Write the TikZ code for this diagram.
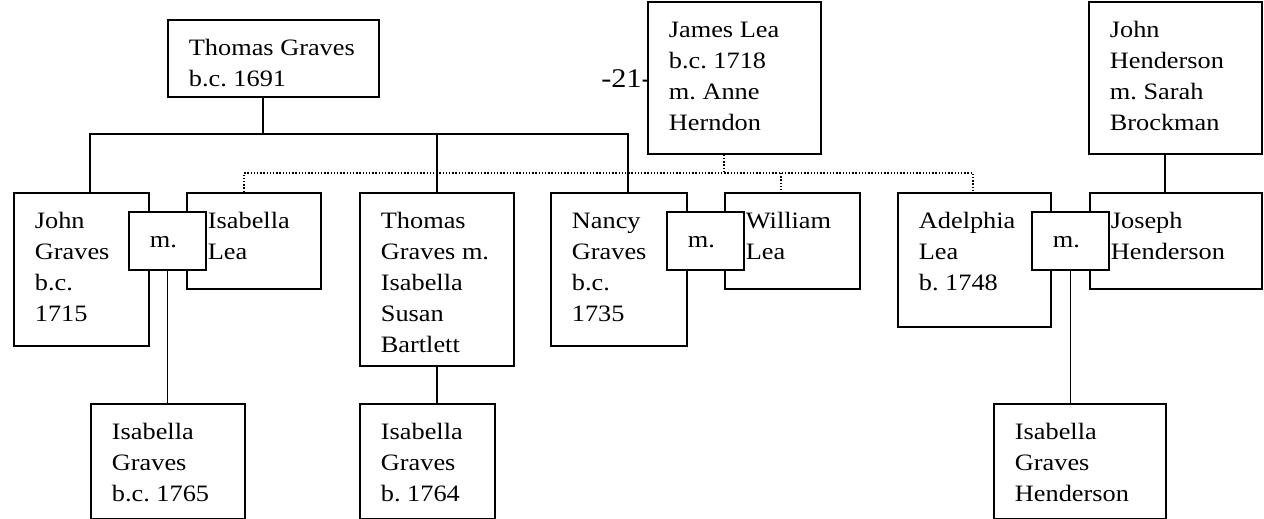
\documentclass[tikz,border=0pt]{standalone}
\usepackage{fontspec}
\setmainfont{Liberation Serif}[FakeStretch=1.12]
\usepackage{tikz}

\newlength{\pxu}
\setlength{\pxu}{0.5pt}
% box text: width, height (px), lines
\newcommand{\entry}[3]{\parbox[t][#2\pxu][t]{\dimexpr#1\pxu-42\pxu\relax}{\raggedright\hyphenpenalty=10000\rule{0pt}{35.5\pxu}#3}}

\begin{document}
\begin{tikzpicture}[
  x=0.5pt, y=-0.5pt,
  font=\fontsize{11.75}{15.5}\selectfont,
  person/.style={draw, line width=0.9pt, fill=white, inner xsep=10.5pt, inner ysep=0pt, anchor=north west},
  link/.style={line width=0.9pt},
  kin/.style={line width=0.7pt, dash pattern=on 0.7pt off 0.9pt},
]
\useasboundingbox (0,0) rectangle (1264,519);

% Numéro de page
\node[anchor=base west, inner sep=0pt, font=\fontsize{13.5}{16}\selectfont] (pagenum) at (601,88) {-21-};

% Parents
\node[person] (tgraves) at (167,19) {\entry{211}{77}{Thomas~Graves\\b.c.~1691}};
\node[person] (jlea)    at (647,1)  {\entry{173}{152}{James~Lea\\b.c.~1718\\m.~Anne\\Herndon}};
\node[person] (jhend)   at (1088,1) {\entry{173}{152}{John\\Henderson\\m.~Sarah\\Brockman}};

% Enfants et conjoints
\node[person] (jgraves)  at (13,192)   {\entry{135}{153}{John\\Graves\\b.c.\\1715}};
\node[person] (ilea)     at (186,192)  {\entry{134}{96}{Isabella\\Lea}};
\node[person] (m1)       at (128,211)  {\entry{77}{58}{m.}};
\node[person] (tgraves2) at (359,192)  {\entry{154}{173}{Thomas\\Graves~m.\\Isabella\\Susan\\Bartlett}};
\node[person] (ngraves)  at (550,192)  {\entry{136}{153}{Nancy\\Graves\\b.c.\\1735}};
\node[person] (wlea)     at (724,192)  {\entry{135}{96}{William\\Lea}};
\node[person] (m2)       at (666,211)  {\entry{77}{58}{m.}};
\node[person] (adelphia) at (897,192)  {\entry{153}{134}{Adelphia\\Lea\\b.~1748}};
\node[person] (joseph)   at (1089,192) {\entry{172}{96}{Joseph\\Henderson}};
\node[person] (m3)       at (1031,211) {\entry{77}{58}{m.}};

% Petits-enfants
\node[person] (igraves1) at (90,403)  {\entry{154}{115}{Isabella\\Graves\\b.c.~1765}};
\node[person] (igraves2) at (359,403) {\entry{135}{115}{Isabella\\Graves\\b.~1764}};
\node[person] (igh)      at (993,403) {\entry{172}{115}{Isabella\\Graves\\Henderson}};

% Lignes Graves
\coordinate (tgbar) at (263,134);
\draw[link] (tgraves.south -| tgbar) -- (tgbar);
\draw[link] (jgraves.north -| 90,0) -- (90,134) -- (628,134) -- (ngraves.north -| 628,0);
\draw[link] (tgbar -| tgraves2.north) -- (tgraves2.north);

% Lignes Lea (pointillés)
\coordinate (leabar) at (724,173);
\draw[kin] (jlea.south -| leabar) -- (leabar);
\draw[kin] (ilea.north -| 244,0) -- (244,173) -- (973,173) -- (adelphia.north -| 973,0);
\draw[kin] (781,173) -- (wlea.north -| 781,0);

% Henderson
\draw[link] (jhend.south -| 1165,0) -- (joseph.north -| 1165,0);

% Descendants
\draw[link] (m1.south) -- (m1.south |- igraves1.north);
\draw[link] (tgraves2.south) -- (tgraves2.south |- igraves2.north);
\draw[link] (m3.south) -- (m3.south |- igh.north);
\end{tikzpicture}
\end{document}
